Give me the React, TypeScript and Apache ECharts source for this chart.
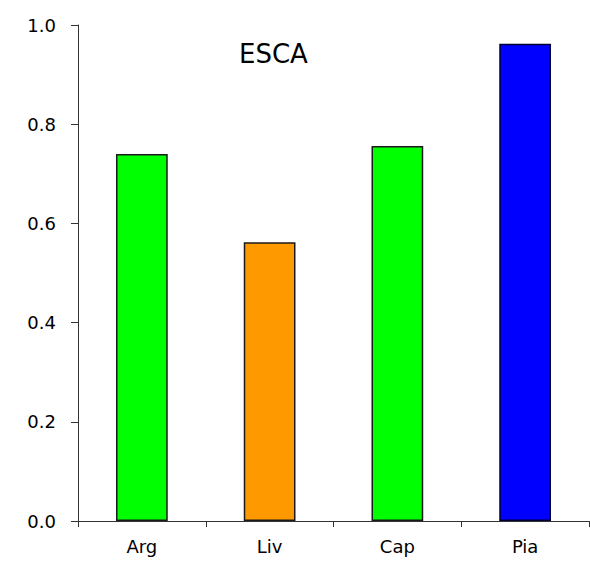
import React, { useEffect, useRef } from "react";
import * as echarts from "echarts";

const categories = ["Arg", "Liv", "Cap", "Pia"];
const values = [0.74, 0.562, 0.756, 0.962];
const barColors = ["#00ff00", "#ff9900", "#00ff00", "#0000ff"];
const borderColors = ["#1a1a1a", "#1a1a1a", "#1a1a1a", "#000033"];
const titleText = "ESCA";

export default function App() {
  const ref = useRef<HTMLDivElement>(null);
  useEffect(() => {
    const chart = echarts.init(ref.current!, null, { renderer: "svg" });
    chart.setOption({
      animation: false,
      backgroundColor: "#ffffff",
      title: {
        text: titleText,
        left: 234,
        top: 36,
        textStyle: { fontFamily: "DejaVu Sans", fontSize: 26, fontWeight: "normal", color: "#000" },
      },
      grid: { left: 78, right: 1, top: 25, bottom: 42 },
      xAxis: {
        type: "category",
        data: categories,
        axisLine: { lineStyle: { color: "#333", width: 1 } },
        axisTick: { show: true, length: 6, lineStyle: { color: "#333" } },
        axisLabel: { fontFamily: "DejaVu Sans", fontSize: 18, color: "#000", margin: 16 },
      },
      yAxis: {
        type: "value",
        min: 0,
        max: 1,
        interval: 0.2,
        splitLine: { show: false },
        axisLine: { show: true, lineStyle: { color: "#333", width: 1 } },
        axisTick: { show: true, length: 7, lineStyle: { color: "#333" } },
        axisLabel: {
          fontFamily: "DejaVu Sans",
          fontSize: 18,
          color: "#000",
          margin: 22,
          formatter: (v: number) => v.toFixed(1),
        },
      },
      series: [
        {
          type: "bar",
          barWidth: "40.5%",
          data: values.map((v, i) => ({
            value: v,
            itemStyle: { color: barColors[i], borderColor: borderColors[i], borderWidth: 1.5 },
          })),
        },
      ],
    });
    return () => chart.dispose();
  }, []);
  return <div ref={ref} style={{ width: 590, height: 563, position: "absolute", left: 0, top: 0 }} />;
}
